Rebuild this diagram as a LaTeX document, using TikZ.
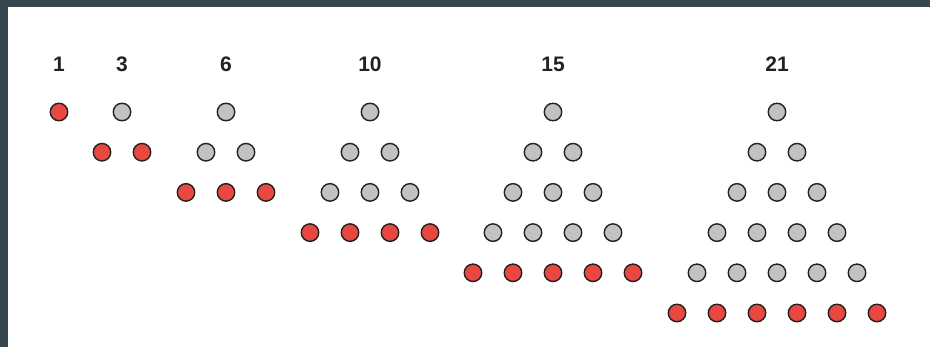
\documentclass[tikz,border=0pt]{standalone}
\usepackage{fontspec}
\setmainfont{Liberation Sans}
\definecolor{frame}{HTML}{37474F}
\definecolor{dotred}{HTML}{E8483F}
\definecolor{dotgray}{HTML}{C2C2C2}
\definecolor{ink}{HTML}{222222}
\begin{document}
\begin{tikzpicture}[x=1pt,y=-1pt,
  dot/.style={circle,draw=ink,line width=1.4pt,minimum size=17.5pt,inner sep=0pt},
  graydot/.style={dot,fill=dotgray},
  reddot/.style={dot,fill=dotred},
  numlabel/.style={font=\fontsize{21}{24}\selectfont\bfseries,text=ink,anchor=center}]
\useasboundingbox (0,0) rectangle (930,347);
\fill[frame] (0,0) rectangle (930,7);
\fill[frame] (0,0) rectangle (8,347);
% labels
\node[numlabel] (l1) at (59,64) {1};
\node[numlabel] (l3) at (122,64) {3};
\node[numlabel] (l6) at (226,64) {6};
\node[numlabel] (l10) at (370,64) {10};
\node[numlabel] (l15) at (553,64) {15};
\node[numlabel] (l21) at (777,64) {21};
% triangles: apex x, number of rows
\foreach \ax/\n in {59/1,122/2,226/3,370/4,553/5,777/6}{
  \foreach \r in {1,...,\n}{
    \foreach \c in {1,...,\r}{
      \pgfmathsetmacro{\xx}{\ax-20*(\r-1)+40*(\c-1)}
      \pgfmathsetmacro{\yy}{112+40.2*(\r-1)}
      \ifnum\r=\n
        \node[reddot] (t\n r\r c\c) at (\xx,\yy) {};
      \else
        \node[graydot] (t\n r\r c\c) at (\xx,\yy) {};
      \fi
    }
  }
}
\end{tikzpicture}
\end{document}
